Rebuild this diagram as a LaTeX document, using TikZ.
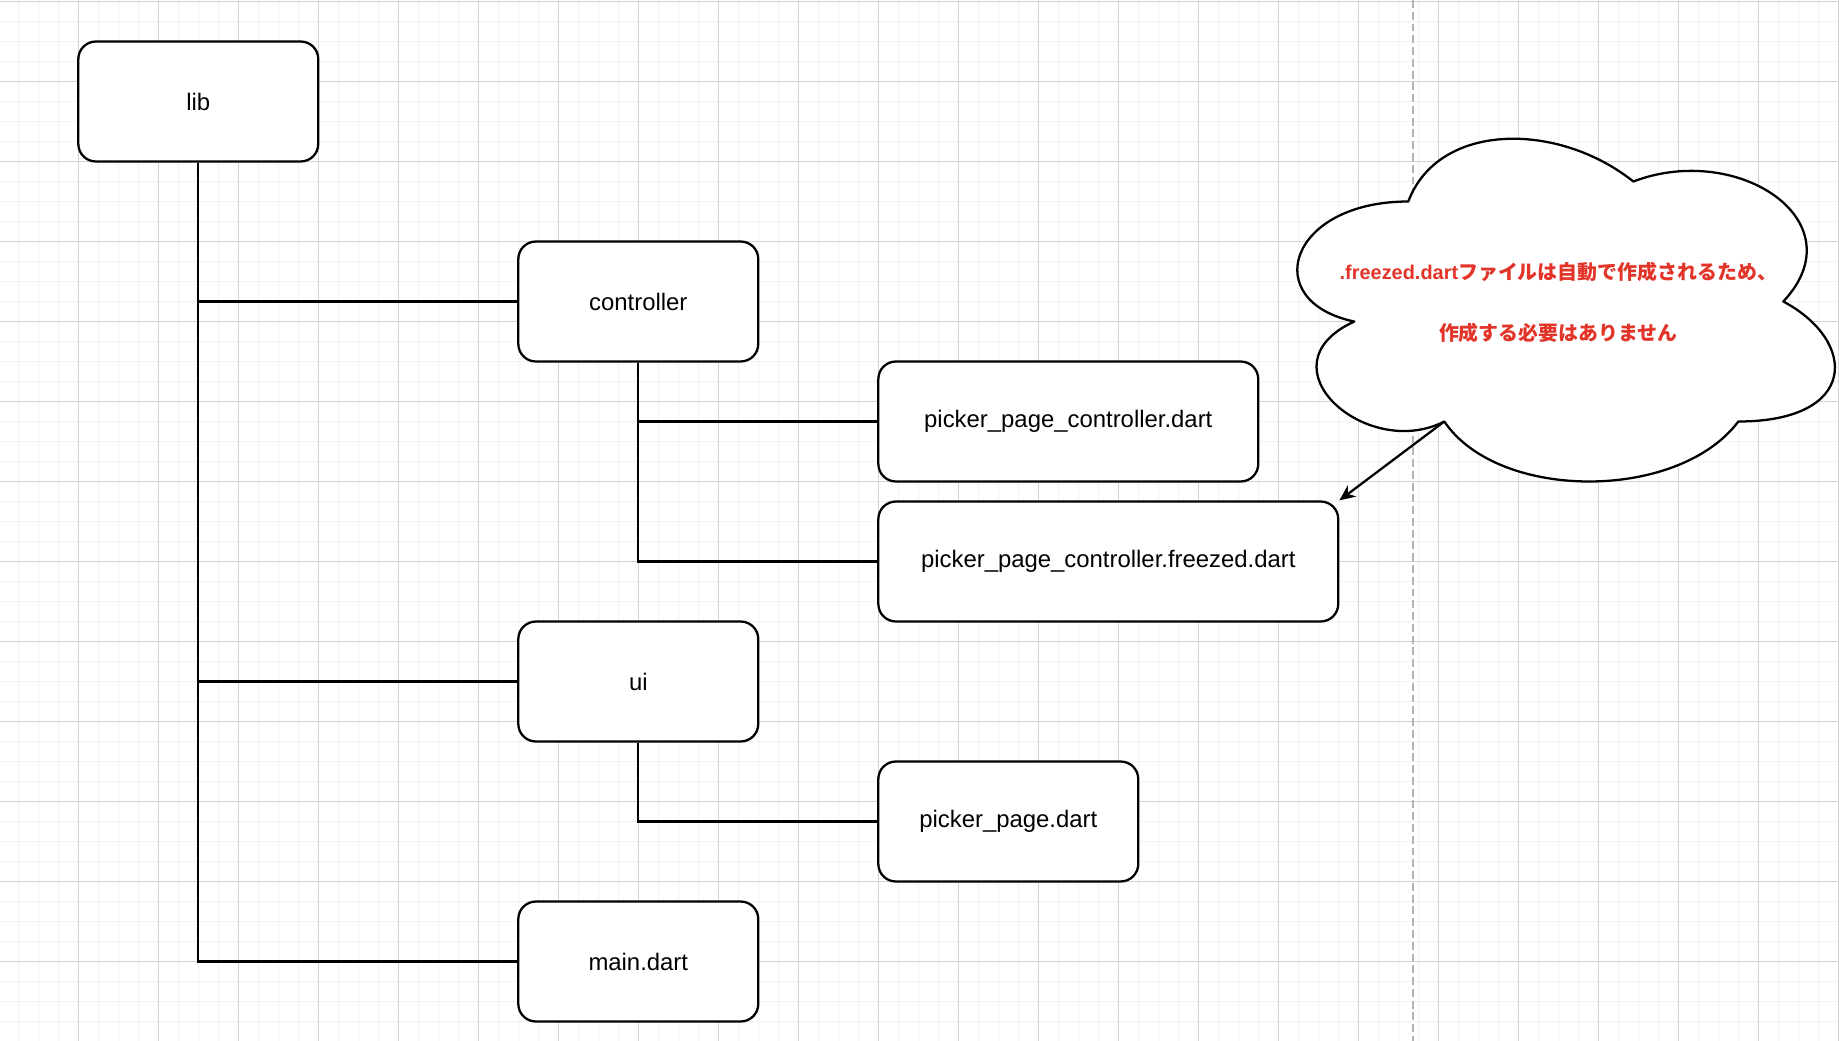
\documentclass[tikz,border=0pt]{standalone}
\usepackage{fontspec}
\setmainfont{Liberation Sans}
\newfontfamily\cjk{Noto Sans CJK JP}
\usetikzlibrary{arrows.meta}
\definecolor{notered}{RGB}{226,52,40}
\definecolor{gridminor}{HTML}{F2F2F2}
\definecolor{gridmajor}{HTML}{D2D2D2}
\definecolor{pageline}{HTML}{B4B4B4}

\begin{document}
\begin{tikzpicture}[x=0.02cm,y=-0.02cm,
      box/.style={draw,line width=1.3pt,rounded corners=10pt,fill=white,minimum width=4.8cm,minimum height=2.4cm,inner sep=0pt,font=\fontsize{13.6}{16}\selectfont},
      link/.style={line width=1.3pt}]
    \useasboundingbox (0,0) rectangle (1839,1041);
    \fill[white] (0,0) rectangle (1839,1041);
    % background grid
    \foreach \x in {18.3,38.3,...,1839} \draw[gridminor,line width=0.55pt] (\x,0) -- (\x,1041);
    \foreach \y in {1.5,21.5,...,1041} \draw[gridminor,line width=0.55pt] (0,\y) -- (1839,\y);
    \foreach \x in {78.3,158.3,...,1839} \draw[gridmajor,line width=0.55pt] (\x,0) -- (\x,1041);
    \foreach \y in {1.5,81.5,...,1041} \draw[gridmajor,line width=0.55pt] (0,\y) -- (1839,\y);
    \draw[pageline,line width=1pt,dash pattern=on 4.5pt off 2.2pt] (1412.7,0) -- (1412.7,1041);
    % folder tree
    \node[box] (lib) at (198.3,101.5) {lib};
    \node[box] (ctrl) at (638.3,301.5) {controller};
    \node[box,minimum width=7.6cm] (ctrlfile) at (1068.3,421.5) {picker\_page\_controller.dart};
    \node[box,minimum width=9.2cm] (frzfile) at (1108.3,561.5) {picker\_page\_controller.freezed.dart};
    \node[box] (ui) at (638.3,681.5) {ui};
    \node[box,minimum width=5.2cm] (page) at (1008.3,821.5) {picker\_page.dart};
    \node[box] (main) at (638.3,961.5) {main.dart};
    \draw[link] (lib.south) |- (ctrl.west);
    \draw[link] (lib.south) |- (ui.west);
    \draw[link] (lib.south) |- (main.west);
    \draw[link] (ctrl.south) |- (ctrlfile.west);
    \draw[link] (ctrl.south) |- (frzfile.west);
    \draw[link] (ui.south) |- (page.west);
    % cloud note
    \begin{scope}[shift={(1258.3,101.5)}]
      \draw[line width=1.3pt,line join=round,fill=white] (150,100)
        .. controls (30,100) and (0,200) .. (96,220)
        .. controls (0,264) and (108,360) .. (186,320)
        .. controls (240,400) and (420,400) .. (480,320)
        .. controls (600,320) and (600,240) .. (525,200)
        .. controls (600,120) and (480,40) .. (375,80)
        .. controls (300,20) and (180,20) .. (150,100) -- cycle;
      \coordinate (tail) at (186,320);
    \end{scope}
    \node[text=notered,font=\bfseries\fontsize{11.34}{34.6}\selectfont,align=center] (note) at (1558.3,302.5)
      {.freezed.dart{\cjk ファイルは自動で作成されるため、}\\{\cjk 作成する必要はありません}};
    \draw[link,-{Stealth[length=9pt,width=8pt]}] (tail) -- (frzfile.north east);
\end{tikzpicture}
\end{document}
